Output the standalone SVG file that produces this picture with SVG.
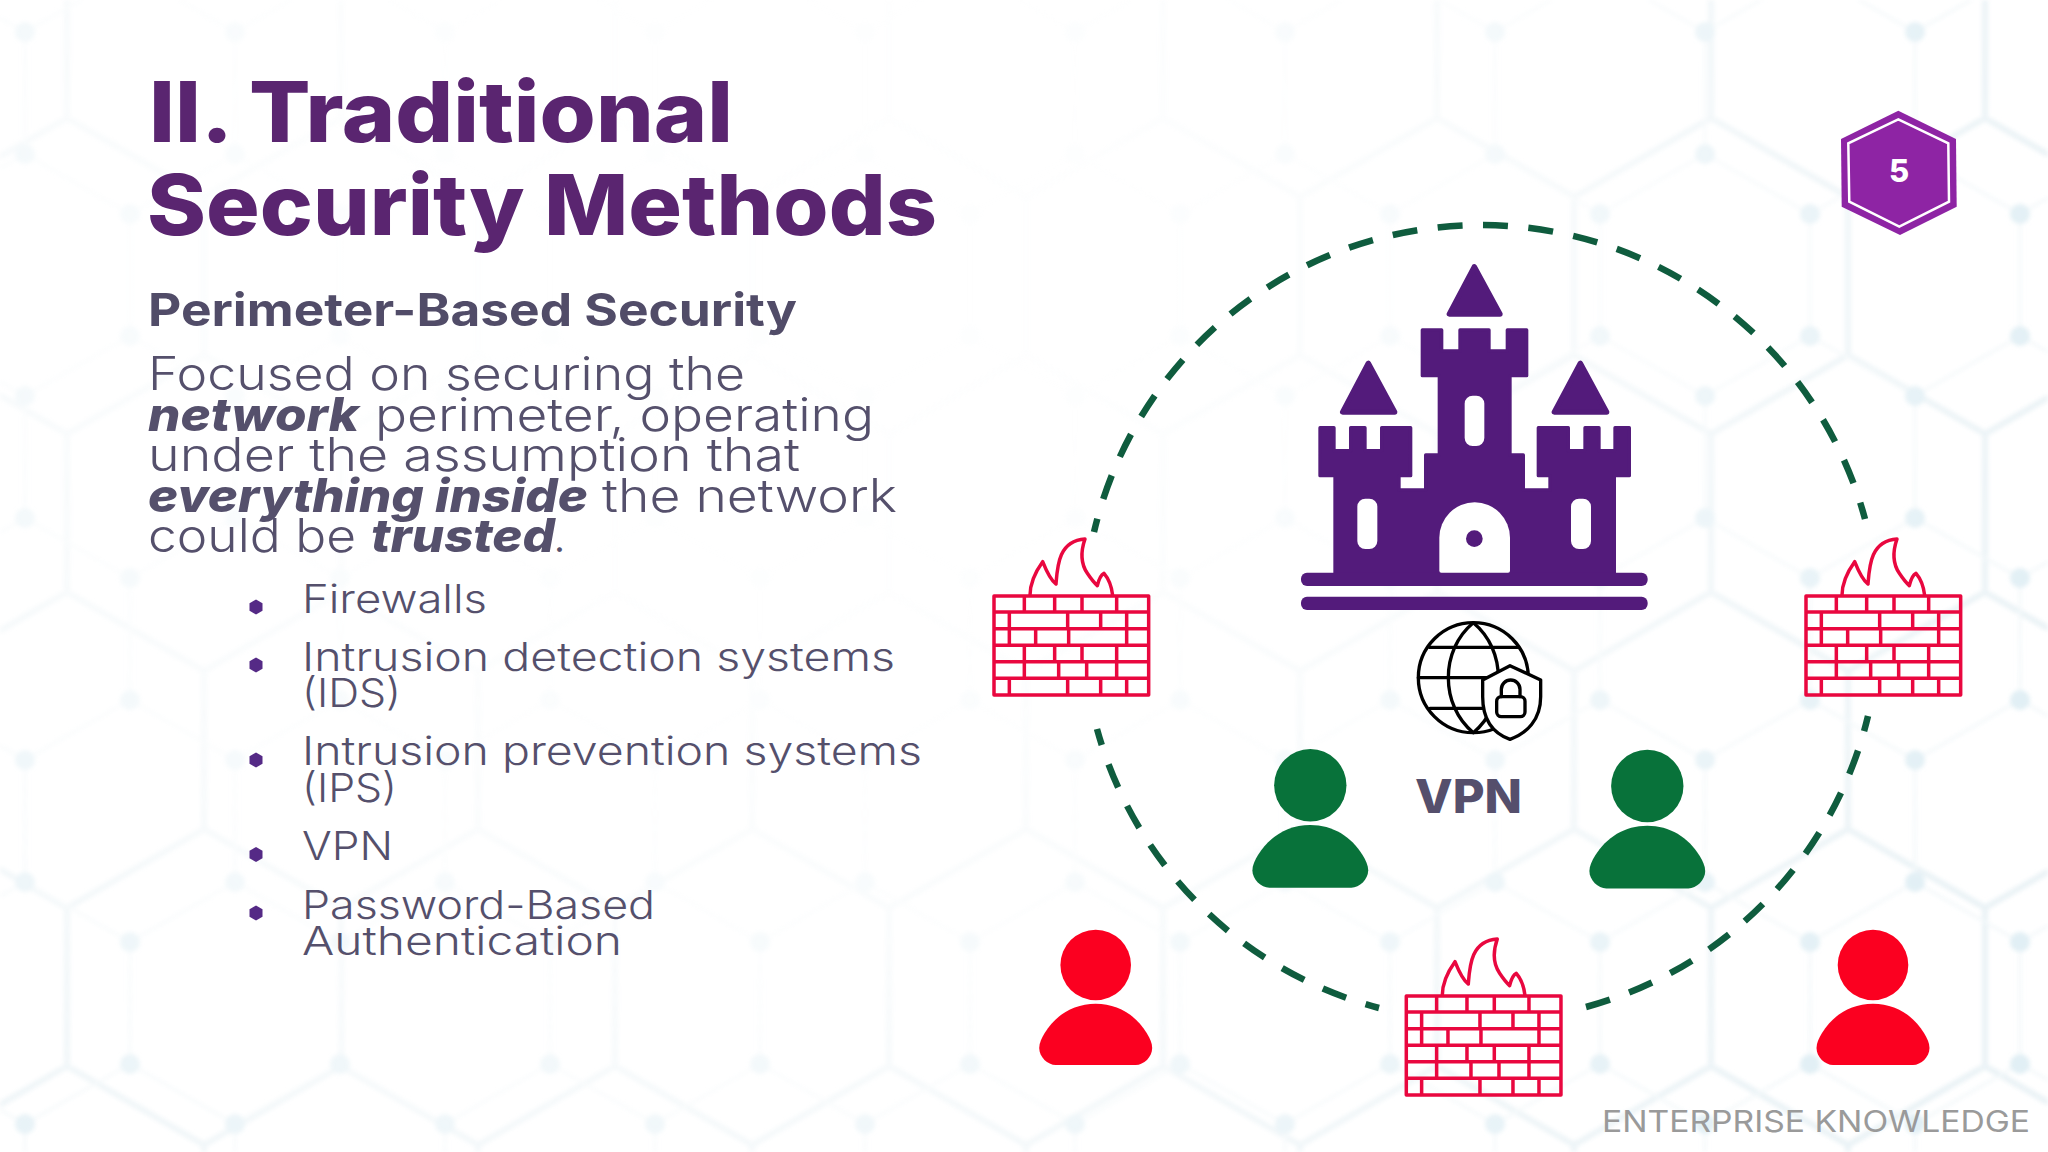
<svg xmlns="http://www.w3.org/2000/svg" xmlns:xlink="http://www.w3.org/1999/xlink" width="2048" height="1152" viewBox="0 0 2048 1152">
<defs>
<style>
text{font-family:"Inter","Liberation Sans",sans-serif}
.title{font-size:84px;font-weight:800;fill:#5a2570}
.sub{font-size:45px;font-weight:700;fill:#514c68}
.body{font-size:46px;font-weight:300;fill:#55506c}
.bold{font-size:46px;font-weight:800;font-style:italic;fill:#55506c}
.li{font-size:39px;font-weight:300;fill:#55506c}
.perim{fill:none;stroke:#0f5c3e;stroke-width:6.500;stroke-dasharray:25 20.500}
.brick{fill:none;stroke:#e9073f;stroke-width:10.500;stroke-linejoin:round}
.blk{fill:none;stroke:#000;stroke-width:10;stroke-linejoin:round;stroke-linecap:round}
.c{fill:#531b7b}
.cs{fill:#531b7b;stroke:#531b7b;stroke-width:10;stroke-linejoin:round}
.cw{fill:#fff}
</style>
<pattern id="hexL" patternUnits="userSpaceOnUse" x="67" y="118" width="274" height="474">
<path d="M0 0L137 79V237L0 316V474M274 0L137 79M137 237L274 316V474" fill="none" stroke="#e6f0f4" stroke-width="6"/>
</pattern>
<pattern id="hexS" patternUnits="userSpaceOnUse" x="235" y="32" width="210" height="364">
<path d="M0 0V122L105 182V304L0 364M210 0V122L105 182M105 304L210 364" fill="none" stroke="#f1f7f9" stroke-width="3"/>
<g fill="#dcecf3"><circle r="10"/><circle cx="210" r="10"/><circle cy="364" r="10"/><circle cx="210" cy="364" r="10"/><circle cy="122" r="10"/><circle cx="210" cy="122" r="10"/><circle cx="105" cy="182" r="10"/><circle cx="105" cy="304" r="10"/></g>
</pattern>
<radialGradient id="fadeG" gradientUnits="userSpaceOnUse" cx="760" cy="280" r="1400">
<stop offset="0.25" stop-color="#fff" stop-opacity="0.06"/><stop offset="0.5" stop-color="#fff" stop-opacity="0.25"/><stop offset="0.95" stop-color="#fff" stop-opacity="0.85"/>
</radialGradient>
<mask id="fade" maskUnits="userSpaceOnUse" x="0" y="0" width="2048" height="1152"><rect width="2048" height="1152" fill="url(#fadeG)"/></mask>
<filter id="soft" x="0" y="0" width="1" height="1"><feGaussianBlur stdDeviation="2"/></filter>
<g id="fw">
<path class="brick" d="M72 228H536V525H72ZM72 276H536M72 326H536M72 376H536M72 425H536M72 475H536M163 228V276M254 228V276M336 228V276M440 228V276M118 276V326M293 276V326M392 276V326M470 276V326M118 326V376M197 326V376M296 326V376M470 326V376M163 376V425M254 376V425M336 376V425M440 376V425M163 425V475M266 425V475M350 425V475M440 425V475M118 475V525M293 475V525M392 475V525M470 475V525"/>
<path class="brick" d="M180 226C180 185 200 150 218 125C228 150 240 180 258 192C262 140 265 62 345 57C330 100 335 135 352 160C362 175 372 188 382 197C386 180 392 165 402 160C415 175 425 200 428 226"/>
</g>
<path id="body" d="M-56.500 83C-56.500 78 -54 73 -51 68C-40 50 -22 38.700 0 38.700C22 38.700 40 50 51 68C54 73 56.500 78 56.500 83C56.500 92 48 100 40 100H-40C-48 100 -56.500 92 -56.500 83Z"/>
</defs>
<rect width="2048" height="1152" fill="#fff"/>
<g id="background" mask="url(#fade)" filter="url(#soft)">
<rect width="2048" height="1152" fill="url(#hexL)"/>
<rect width="2048" height="1152" fill="url(#hexS)"/>
</g>
<g id="heading">
<text class="title" x="149" y="142" textLength="584" lengthAdjust="spacingAndGlyphs">II. Traditional</text>
<text class="title" x="147" y="235" textLength="790" lengthAdjust="spacingAndGlyphs">Security Methods</text>
<text class="sub" x="148" y="326" textLength="649" lengthAdjust="spacingAndGlyphs">Perimeter-Based Security</text>
</g>
<g id="paragraph">
<text class="body" x="148" y="390" textLength="597" lengthAdjust="spacingAndGlyphs">Focused on securing the</text>
<text class="bold" x="148" y="431" textLength="211" lengthAdjust="spacingAndGlyphs">network</text>
<text class="body" x="375" y="431" textLength="499" lengthAdjust="spacingAndGlyphs">perimeter, operating</text>
<text class="body" x="148" y="471" textLength="652" lengthAdjust="spacingAndGlyphs">under the assumption that</text>
<text class="bold" x="148" y="512" textLength="440" lengthAdjust="spacingAndGlyphs">everything inside</text>
<text class="body" x="602" y="512" textLength="295" lengthAdjust="spacingAndGlyphs">the network</text>
<text class="body" x="148" y="552" textLength="208" lengthAdjust="spacingAndGlyphs">could be</text>
<text class="bold" x="371" y="552" textLength="184" lengthAdjust="spacingAndGlyphs">trusted</text>
<text class="body" x="553" y="552">.</text>
</g>
<g id="bullets">
<g fill="#552a86">
<path d="M256 599.500l6.500 3.800v7.400l-6.500 3.800l-6.500-3.800v-7.400Z"/>
<path d="M256 657.500l6.500 3.800v7.400l-6.500 3.800l-6.500-3.800v-7.400Z"/>
<path d="M256 752.500l6.500 3.800v7.400l-6.500 3.800l-6.500-3.800v-7.400Z"/>
<path d="M256 847l6.500 3.800v7.400l-6.500 3.800l-6.500-3.800v-7.400Z"/>
<path d="M256 905.500l6.500 3.800v7.400l-6.500 3.800l-6.500-3.800v-7.400Z"/>
</g>
<text class="li" x="302" y="612.500" textLength="185" lengthAdjust="spacingAndGlyphs">Firewalls</text>
<text class="li" x="302" y="671" textLength="593" lengthAdjust="spacingAndGlyphs">Intrusion detection systems</text>
<text class="li" x="302" y="707" textLength="99" lengthAdjust="spacingAndGlyphs">(IDS)</text>
<text class="li" x="302" y="765" textLength="620" lengthAdjust="spacingAndGlyphs">Intrusion prevention systems</text>
<text class="li" x="302" y="801.500" textLength="95" lengthAdjust="spacingAndGlyphs">(IPS)</text>
<text class="li" x="302" y="860" textLength="91" lengthAdjust="spacingAndGlyphs">VPN</text>
<text class="li" x="302" y="918.500" textLength="353" lengthAdjust="spacingAndGlyphs">Password-Based</text>
<text class="li" x="302" y="954.500" textLength="320" lengthAdjust="spacingAndGlyphs">Authentication</text>
</g>
<g id="connectors">
<path class="perim" d="M1483 225A398 398 0 0 1 1865 519"/>
<path class="perim" stroke-dashoffset="25" d="M1483 225A398 398 0 0 0 1094 532"/>
<path class="perim" d="M1586 1007A398 398 0 0 0 1868 716"/>
<path class="perim" stroke-dashoffset="11" d="M1379 1008A398 398 0 0 1 1097 729"/>
</g>
<g id="badge">
<path d="M1898.300 110.700L1956 139L1956.700 206.700L1900 235L1841.700 206.700L1841 139Z" fill="#8e24a4"/>
<path d="M1898.300 119.300L1948.300 143.300L1949 201.700L1899.300 226.700L1849.300 201.700L1848.300 143.300Z" fill="none" stroke="#fff" stroke-width="2.500"/>
<text x="1899" y="182" text-anchor="middle" font-size="31" font-weight="800" fill="#fff">5</text>
</g>
<g id="castle" transform="translate(1250 240) scale(.33333)">
<path class="cs" d="M517 270H575V333H630V270H717V333H772V270H830V407H780V645H820V750H900V707H865V563H955V632H1005V563H1047V632H1095V563H1138V707H1093V1020H255V707H210V563H252V632H302V563H345V632H395V563H482V707H447V750H527V645H568V407H517Z"/>
<rect class="c" x="153" y="998" width="1040" height="40" rx="18"/>
<rect class="c" x="153" y="1070" width="1040" height="40" rx="18"/>
<path class="cs" style="stroke-width:16" d="M673 80L598 222H750Z"/>
<path class="cs" style="stroke-width:16" d="M355 370L278 516H434Z"/>
<path class="cs" style="stroke-width:16" d="M991 370L913 516H1070Z"/>
<rect class="cw" x="644" y="467" width="59" height="151" rx="24"/>
<rect class="cw" x="322" y="776" width="60" height="151" rx="24"/>
<rect class="cw" x="963" y="776" width="60" height="151" rx="24"/>
<path class="cw" d="M568 992V893A106 106 0 0 1 780 893V992Q780 998 774 998H574Q568 998 568 992Z"/>
<circle class="c" cx="673" cy="896" r="25"/>
</g>
<g id="firewall-left" transform="translate(970 520) scale(.33333)"><use href="#fw"/></g>
<g id="firewall-right" transform="translate(1782 520) scale(.33333)"><use href="#fw"/></g>
<g id="firewall-bottom" transform="translate(1382.300 920) scale(.33333)"><use href="#fw"/></g>
<g id="vpn-icon" transform="translate(1380 600) scale(.33333)">
<circle class="blk" cx="280" cy="233" r="165"/>
<path class="blk" d="M280 68C180 150 180 316 280 398C380 316 380 150 280 68ZM148 142H415M115 233H320M150 325H320"/>
<path class="blk" style="fill:#fff" d="M390 197L482 240V290C482 360 440 400 390 418C340 400 308 360 308 290V240Z"/>
<rect class="blk" x="350" y="290" width="85" height="60" rx="14"/>
<path class="blk" d="M364 290V268A28 28 0 0 1 420 268V290"/>
</g>
<g id="vpn-label"><text x="1415" y="813" font-size="46" font-weight="800" fill="#554f6c" textLength="107" lengthAdjust="spacingAndGlyphs">VPN</text></g>
<g id="user-green-left" fill="#08723a" transform="translate(1310.300 785.300) scale(1.025)"><circle r="35.300"/><use href="#body"/></g>
<g id="user-green-right" fill="#08723a" transform="translate(1647.300 786) scale(1.025)"><circle r="35.300"/><use href="#body"/></g>
<g id="user-red-left" fill="#fb0020" transform="translate(1095.700 965)"><circle r="35.300"/><use href="#body"/></g>
<g id="user-red-right" fill="#fb0020" transform="translate(1873 965)"><circle r="35.300"/><use href="#body"/></g>
<g id="footer"><text x="1602" y="1132" font-size="30" font-weight="400" fill="#9a9a9a" textLength="428" lengthAdjust="spacingAndGlyphs">ENTERPRISE KNOWLEDGE</text></g>
</svg>
